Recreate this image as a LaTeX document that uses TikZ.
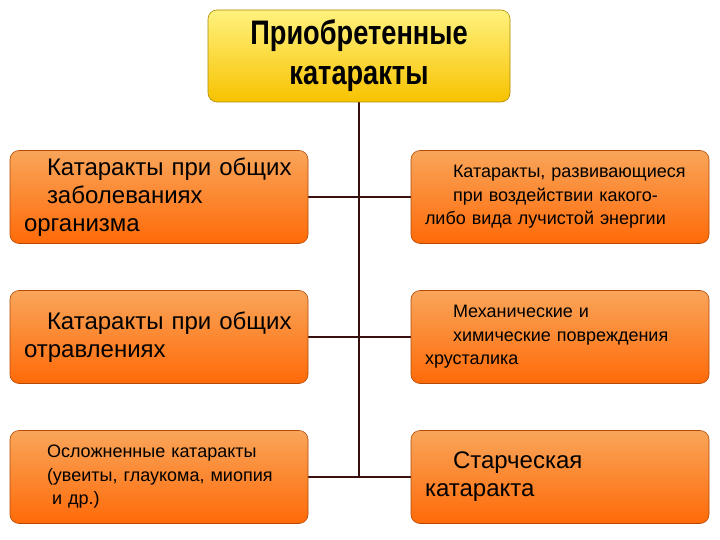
\documentclass[tikz,border=0pt]{standalone}
\usepackage{fontspec}
\setmainfont{Liberation Sans}
\definecolor{ortop}{HTML}{F9A55A}
\definecolor{orbot}{HTML}{FF6A08}
\definecolor{yetop}{HTML}{FFF27E}
\definecolor{yebot}{HTML}{F7C200}
\definecolor{ln}{HTML}{3A0F0F}
\tikzset{
 obox/.style={draw=orbot!70!black, line width=0.6pt, rounded corners=9pt, top color=ortop, bottom color=orbot, minimum width=298pt, minimum height=93pt, text width=270pt, align=left, inner sep=0pt},
 big/.style={font=\fontsize{24}{28}\selectfont},
 small/.style={font=\fontsize{18}{23.5}\selectfont},
 ybox/.style={draw=yebot!70!black, line width=0.6pt, rounded corners=9pt, top color=yetop, bottom color=yebot, minimum width=302pt, minimum height=92pt, align=center, inner sep=0pt, font=\fontsize{34}{40}\selectfont\bfseries},
 conn/.style={draw=ln, line width=1.6pt}
}
\begin{document}
\begin{tikzpicture}[x=1pt,y=-1pt]
\useasboundingbox (0,0) rectangle (720,540);
\coordinate (b) at (359,477);
\draw[conn] (359,56) -- (b);
\draw[conn] (159,197) -- (560,197);
\draw[conn] (159,337) -- (560,337);
\draw[conn] (159,477) -- (560,477);
\node[ybox] (top) at (359,56) {\scalebox{0.8}[1]{Приобретенные}\\\scalebox{0.8}[1]{катаракты}};
\node[obox,big] (l1) at (159,197) {\leftskip=23pt Катаракты при общих\\ заболеваниях\\ организма};
\node[obox,big] (l2) at (159,337) {\leftskip=23pt Катаракты при общих\\ отравлениях};
\node[obox,small] (l3) at (159,477) {\leftskip=23pt Осложненные катаракты\\ (увеиты, глаукома, миопия\\ \hspace*{28pt}и др.)};
\node[obox,small] (r1) at (560,197) {\leftskip=28pt Катаракты, развивающиеся\\ при воздействии какого-\\ либо вида лучистой энергии};
\node[obox,small] (r2) at (560,337) {\leftskip=28pt Механические и\\ химические повреждения\\ хрусталика};
\node[obox,big] (r3) at (560,477) {\leftskip=28pt Старческая\\ катаракта};
\end{tikzpicture}
\end{document}
